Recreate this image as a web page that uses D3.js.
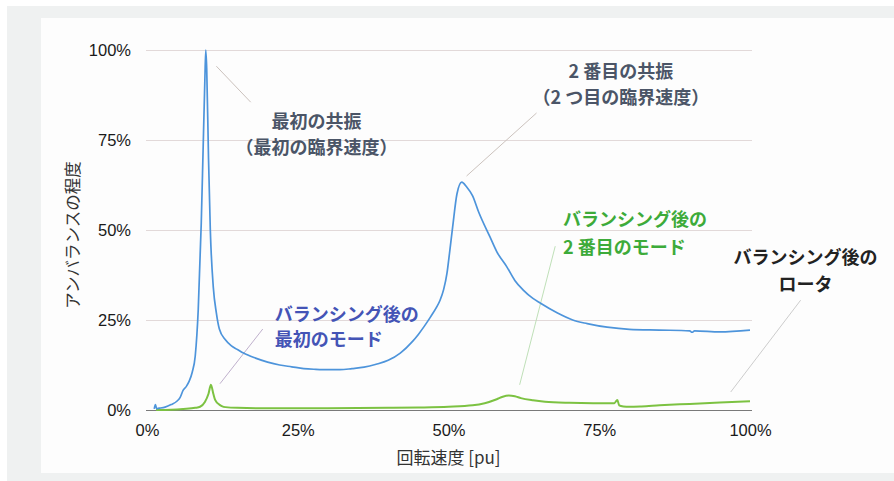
<!DOCTYPE html>
<html><head><meta charset="utf-8">
<script src="https://cdn.jsdelivr.net/npm/d3@7"></script>
<style>html,body{margin:0;padding:0;background:#fff;}svg{display:block;}</style>
</head><body>
<svg id="c" width="894" height="481"></svg>
<script>
// ---- data ----
const blueX = [1.2,1.4,1.6,2,3,4,5,5.5,6,6.5,7,7.5,8,8.5,9,9.3,9.6,9.75,9.9,10.2,10.5,11,11.5,12,13,14,15,16,18,20,22,24,26,28,30,32,34,36,38,40,42,44,45,46,47,48,48.6,49.2,49.75,50.2,50.7,51.4,52.2,53,54,55,56.9,58,59.7,61,62.4,64,65.2,68,70.6,73,76.3,80,85,90,90.4,90.8,95,100];
const blueY = [0.3,1.5,0.4,0.5,0.8,1.5,2.5,3.5,5.5,6.5,8,10.5,15,28,52,72,92,100,95,70,50,34,27,22.5,19.5,17.8,16.8,15.8,14.4,13.3,12.5,12,11.5,11.3,11.2,11.2,11.5,11.9,12.7,13.8,15.8,19,21,23.3,25.8,28.5,30.5,33.5,38,44,51,60,63.3,62,59.5,55,48,44,39.7,36,33.3,31,29.7,27,25,24,23,22.4,22.2,22,21.6,22,21.7,22.2];
const greenX = [1.5,4,6,8,8.8,9.6,10.2,10.6,11,11.3,12,12.4,13,15,20,30,40,45,50,54,56,58,59,60,61,62,64,66,70,74,77.5,78,78.3,79,80,82,85,90,95,100];
const greenY = [0,0.1,0.3,0.6,0.9,2.2,4.5,7,4.5,2.8,1.5,1.1,0.8,0.6,0.5,0.5,0.6,0.7,0.9,1.3,1.9,3,3.7,4,3.8,3.3,2.7,2.3,2,1.9,1.9,2.8,1.3,1,0.9,1,1.3,1.7,2.1,2.4];
const yTicks = [0,25,50,75,100];
const xTicks = [0,25,50,75,100];
const tickFmt = d => d + "%";
const xTitle = "回転速度 [pu]";
const yTitle = "アンバランスの程度";
const notes = [
  {lines:["最初の共振","（最初の臨界速度）"], color:"#4b5567", lead:"#cbc2bd", anchor:"middle", tx:28.1, ty:[78.3,71.1], lx:[11.5,17.2], ly:[95.5,85.5]},
  {lines:["2 番目の共振","（2 つ目の臨界速度）"], color:"#4b5567", lead:"#cbc2bd", anchor:"middle", tx:78.6, ty:[92.2,85], lx:[64.6,53],  ly:[82.5,65]},
  {lines:["バランシング後の","最初のモード"], color:"#4454b6", lead:"#bfb0cc", anchor:"start", tx:21.2, ty:[24.7,17.8], lx:[19.2,12.1], ly:[22.5,7.3]},
  {lines:["バランシング後の","2 番目のモード"], color:"#3dab3a", lead:"#bfe0b8", anchor:"start", tx:69, ty:[51.2,43.3], lx:[67.7,61.8], ly:[45.5,7]},
  {lines:["バランシング後の","ロータ"], color:"#222222", lead:"#cccccc", anchor:"middle", tx:109.2, ty:[40.5,33], lx:[108.4,96.8], ly:[30.5,5]}
];

// ---- layout ----
const svg = d3.select("#c");
svg.append("rect").attr("x",7).attr("y",6).attr("width",887).attr("height",475).attr("fill","#eff1f1");
svg.append("rect").attr("x",41).attr("y",18).attr("width",853).attr("height",455).attr("fill","#fdfdfd");

const x = d3.scaleLinear().domain([0,100]).range([147,750]);
const y = d3.scaleLinear().domain([0,100]).range([410,50]);
const latin = "'Liberation Sans', Arial, Helvetica, sans-serif";
const cjk = "'Noto Sans CJK JP', sans-serif";

// grid
const gy = d3.axisLeft(y).tickValues(yTicks).tickSize(-(x(100)-x(0)+3)).tickFormat(tickFmt).tickPadding(14);
const gAxY = svg.append("g").attr("transform",`translate(${x(0)-1},0)`).call(gy);
gAxY.select(".domain").remove();
gAxY.selectAll(".tick line").attr("stroke","#e2d9d9").attr("stroke-width",1);
gAxY.selectAll(".tick text").attr("fill","#1a1a1a").style("font-family",latin).style("font-size","16.5px").attr("x",-15);
gAxY.selectAll(".tick").filter(d=>d===0).select("line").attr("stroke","#7a7a7a");

const gx = d3.axisBottom(x).tickValues(xTicks).tickFormat(tickFmt).tickSize(0).tickPadding(14);
const gAxX = svg.append("g").attr("transform",`translate(0,${y(0)})`).call(gx);
gAxX.select(".domain").remove();
gAxX.selectAll(".tick text").attr("fill","#1a1a1a").style("font-family",latin).style("font-size","16.5px");

// titles
svg.append("text").attr("x",(x(0)+x(100))/2).attr("y",464).attr("text-anchor","middle")
  .style("font-family",cjk).style("font-size","17px").attr("fill","#333").text(xTitle);
svg.append("text").attr("transform",`translate(79,${(y(0)+y(100))/2+5}) rotate(-90)`).attr("text-anchor","middle")
  .style("font-family",cjk).style("font-size","16.5px").attr("fill","#333").text(yTitle);

// leaders
notes.forEach(n=>{
  svg.append("line").attr("x1",x(n.lx[0])).attr("y1",y(n.ly[0])).attr("x2",x(n.lx[1])).attr("y2",y(n.ly[1]))
    .attr("stroke",n.lead).attr("stroke-width",1);
});

// lines
const line = d3.line().x(d=>x(d[0])).y(d=>y(d[1])).curve(d3.curveMonotoneX);
const blue = blueX.map((v,i)=>[v,blueY[i]]);
const green = greenX.map((v,i)=>[v,greenY[i]]);
svg.append("path").datum(green).attr("d",line).attr("fill","none").attr("stroke","#7cc242").attr("stroke-width",2);
svg.append("path").datum(blue).attr("d",line).attr("fill","none").attr("stroke","#4d94db").attr("stroke-width",1.7);

// annotation text
notes.forEach(n=>{
  n.lines.forEach((t,i)=>{
    svg.append("text").attr("x",x(n.tx)).attr("y",y(n.ty[i])).attr("text-anchor",n.anchor)
      .style("font-family",cjk).style("font-weight","700").style("font-size","18px")
      .attr("fill",n.color).text(t);
  });
});
</script>
</body></html>
